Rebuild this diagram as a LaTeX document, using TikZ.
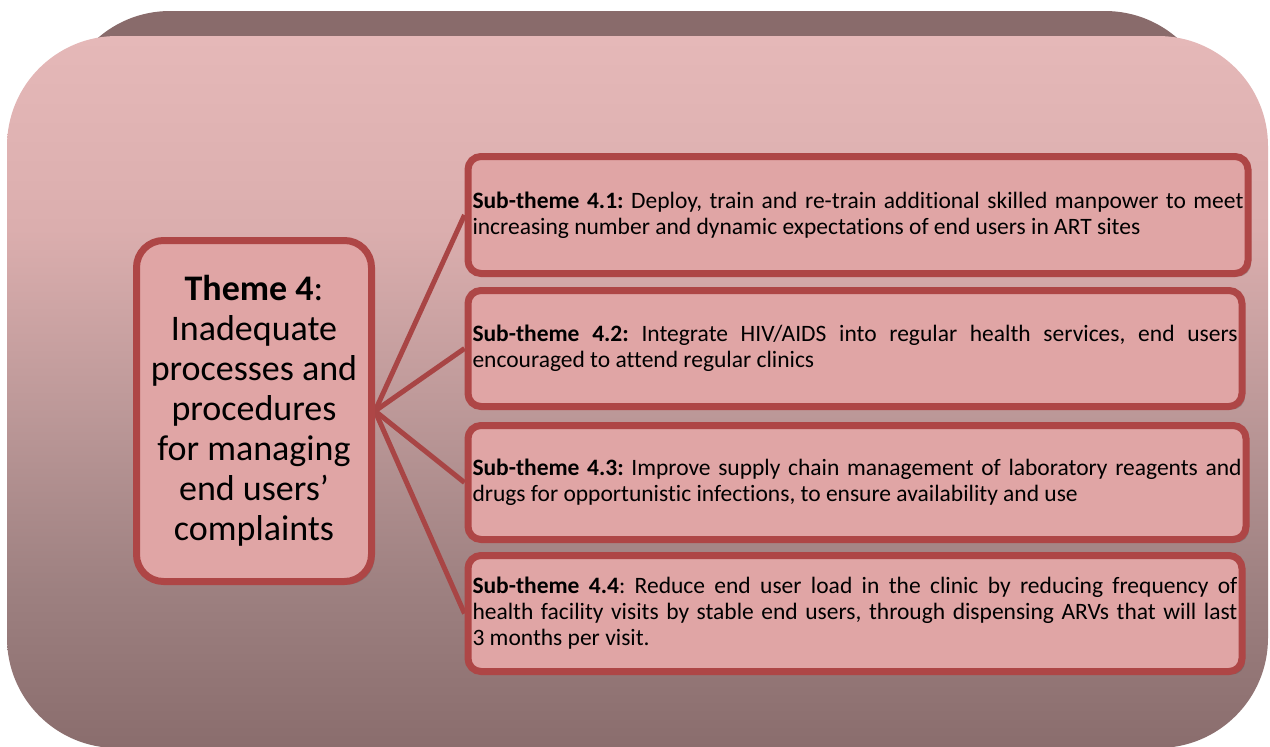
\documentclass[tikz,border=0pt]{standalone}
\usepackage{fontspec}
\setmainfont{Carlito}[RawFeature={-liga;-clig;-calt}]
\frenchspacing
\usetikzlibrary{shadows}
\definecolor{bgtop}{HTML}{E5B8B8}
\definecolor{bgh}{HTML}{DBAEAE}
\definecolor{bgm}{HTML}{BC9898}
\definecolor{bgl}{HTML}{9D8080}
\definecolor{bgbot}{HTML}{8A6D6D}
\definecolor{backcol}{HTML}{896B6B}
\definecolor{boxfill}{HTML}{E0A5A5}
\definecolor{bordercol}{HTML}{AE4646}
\definecolor{conncol}{HTML}{A84545}
\pgfdeclareverticalshading{bgshade}{100bp}{color(0bp)=(bgbot); color(25bp)=(bgbot); color(36bp)=(bgl); color(48.5bp)=(bgm); color(61.5bp)=(bgh); color(75bp)=(bgtop); color(100bp)=(bgtop)}
\pgfdeclarelayer{bg}
\pgfdeclarelayer{lines}
\pgfsetlayers{bg,lines,main}
\begin{document}
\frenchspacing
\begin{tikzpicture}[x=1pt,y=-1pt,
  boxshadow/.style={drop shadow={shadow xshift=3pt, shadow yshift=-3pt, opacity=0.35, fill=black!70}},
  themebox/.style={draw=bordercol, line width=7pt, fill=boxfill, rounded corners=27pt,
    minimum width=235pt, minimum height=341pt, inner sep=0pt, align=center,
    font=\fontsize{36}{40}\selectfont, boxshadow},
  subbox/.style={draw=bordercol, line width=7pt, fill=boxfill, rounded corners=13pt,
    inner xsep=4.5pt, inner ysep=0pt, minimum height=117pt, align=justify,
    font=\fontsize{23.5}{26}\selectfont\frenchspacing, boxshadow},
  conn/.style={draw=conncol, line width=5pt}]
\useasboundingbox (0,0) rectangle (1270,747);

\node[themebox] (theme) at (254,411) {\textbf{Theme 4}:\\Inadequate\\processes and\\procedures\\for managing\\end users’\\complaints};

\node[subbox, text width=771pt, anchor=west] (s1) at (464.5,215) {\textbf{Sub-theme 4.1:} Deploy, train and re-train additional skilled manpower to meet\linebreak increasing number and dynamic expectations of end users in ART sites};
\node[subbox, text width=765pt, anchor=west, minimum height=116pt] (s2) at (464.5,348.5) {\textbf{Sub-theme 4.2:} Integrate HIV/AIDS into regular health services, end users\linebreak encouraged to attend regular clinics};
\node[subbox, text width=769pt, anchor=west, minimum height=114pt] (s3) at (464.5,482.5) {\textbf{Sub-theme 4.3:} Improve supply chain management of laboratory reagents and\linebreak drugs for opportunistic infections, to ensure availability and use};
\node[subbox, text width=765pt, anchor=west, minimum height=116pt] (s4) at (464.5,613.5) {\textbf{Sub-theme 4.4}: Reduce end user load in the clinic by reducing frequency of\linebreak health facility visits by stable end users, through dispensing ARVs that will last\linebreak 3 months per visit.};

\begin{pgfonlayer}{lines}
\draw[conn] (theme.east) -- (s1.west);
\draw[conn] (theme.east) -- (s2.west);
\draw[conn] (theme.east) -- (s3.west);
\draw[conn] (theme.east) -- (s4.west);
\end{pgfonlayer}

\begin{pgfonlayer}{bg}
\fill[backcol, rounded corners=110pt] (60,11) rectangle (1215,300);
\shade[shading=bgshade, rounded corners=110pt] (7,36) rectangle (1268,748);
\end{pgfonlayer}
\end{tikzpicture}
\end{document}
